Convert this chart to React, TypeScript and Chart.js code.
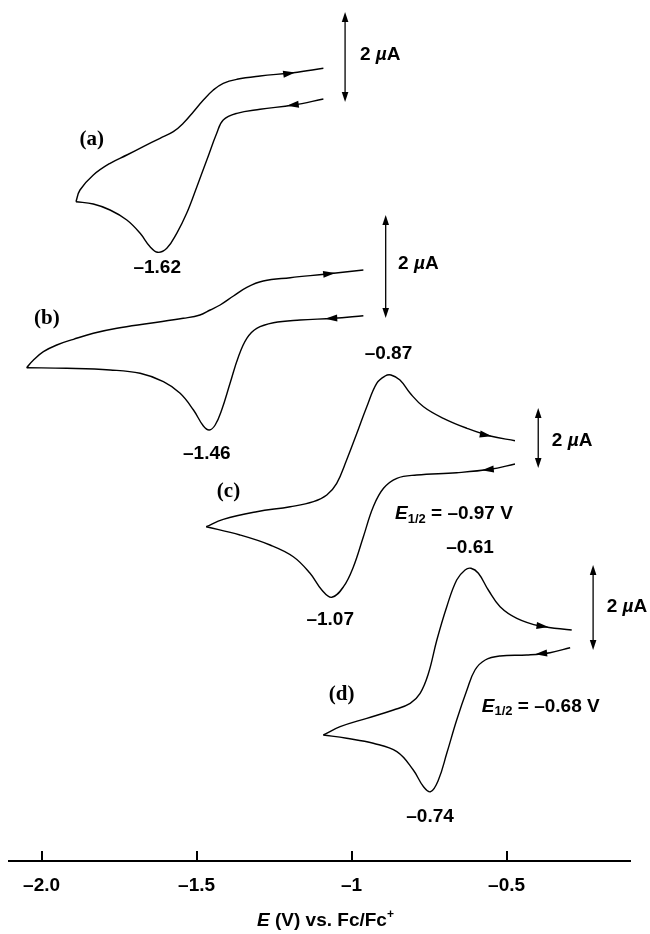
import React, { useEffect, useRef } from "react";
import { Chart, registerables } from "chart.js";

Chart.register(...registerables);

// ---- axis ----
const xTickValues = [-2.0, -1.5, -1, -0.5];
const xTickLabels = ["–2.0", "–1.5", "–1", "–0.5"];
const xTitleItalic = "E";
const xTitleRest = " (V) vs. Fc/Fc";
const xTitleSup = "+";

// ---- curves: [E (V), vertical position (arbitrary units, stacked)] ----
const aUpper: [number, number][] = [
  [-1.889, 659.3], [-1.876, 671], [-1.833, 686], [-1.779, 697.7], [-1.725, 706], [-1.672, 714.3],
  [-1.618, 722.7], [-1.575, 729.3], [-1.543, 737.7], [-1.51, 749.3], [-1.478, 761], [-1.446, 771],
  [-1.414, 777.7], [-1.37, 781.7], [-1.295, 785], [-1.188, 788.3], [-1.091, 792.7],
];
const aLower: [number, number][] = [
  [-1.889, 659.3], [-1.833, 657], [-1.779, 651], [-1.725, 641], [-1.682, 627.7], [-1.65, 614.3],
  [-1.625, 608.7], [-1.596, 612.7], [-1.564, 627.7], [-1.532, 647.7], [-1.499, 674.3], [-1.467, 701],
  [-1.435, 727.7], [-1.414, 741], [-1.37, 747.7], [-1.295, 751.7], [-1.188, 756], [-1.091, 762],
];
const bUpper: [number, number][] = [
  [-2.048, 493.3], [-2.026, 501], [-1.994, 509.3], [-1.951, 516], [-1.897, 521.7], [-1.833, 527.7],
  [-1.757, 532.7], [-1.65, 537.7], [-1.543, 542.7], [-1.489, 546], [-1.456, 551], [-1.424, 556],
  [-1.381, 565], [-1.338, 573.7], [-1.285, 580], [-1.198, 583.3], [-1.08, 587], [-0.962, 591],
];
const bLower: [number, number][] = [
  [-2.048, 493.3], [-1.919, 492.7], [-1.779, 491], [-1.682, 487.7], [-1.607, 479.3], [-1.553, 467.7],
  [-1.51, 451], [-1.478, 435], [-1.459, 431], [-1.44, 436], [-1.419, 451], [-1.392, 477.7],
  [-1.365, 504.3], [-1.338, 522.7], [-1.306, 532.7], [-1.252, 538.3], [-1.166, 541], [-1.059, 542.7],
  [-0.962, 545.3],
];
const cUpper: [number, number][] = [
  [-1.469, 334.3], [-1.414, 341.7], [-1.306, 349.3], [-1.198, 354.3], [-1.123, 359.3], [-1.08, 366],
  [-1.048, 377.7], [-1.016, 401], [-0.983, 427.7], [-0.951, 454.3], [-0.919, 477.7], [-0.892, 485],
  [-0.873, 486], [-0.844, 481], [-0.811, 467.7], [-0.768, 454.3], [-0.704, 442.7], [-0.628, 432.7],
  [-0.553, 425], [-0.473, 420.3],
];
const cLower: [number, number][] = [
  [-1.469, 334.3], [-1.36, 326], [-1.263, 316], [-1.188, 304.3], [-1.134, 287.7], [-1.096, 271],
  [-1.064, 263.7], [-1.026, 274.3], [-0.994, 294.3], [-0.962, 324.3], [-0.93, 354.3], [-0.897, 372.7],
  [-0.854, 382.7], [-0.79, 386], [-0.661, 388.3], [-0.553, 391.7], [-0.473, 397],
];
const dUpper: [number, number][] = [
  [-1.091, 126], [-1.037, 134.3], [-0.951, 142.7], [-0.865, 151], [-0.811, 157.7], [-0.779, 167.7],
  [-0.752, 187.7], [-0.725, 221], [-0.693, 254.3], [-0.661, 281], [-0.634, 291], [-0.615, 292.7],
  [-0.591, 287.7], [-0.559, 271], [-0.521, 254.3], [-0.467, 242.7], [-0.392, 235], [-0.29, 231],
];
const dLower: [number, number][] = [
  [-1.091, 126], [-1.016, 122.7], [-0.93, 117.7], [-0.854, 109.3], [-0.801, 91], [-0.768, 74.3],
  [-0.745, 69.3], [-0.72, 81], [-0.693, 107.7], [-0.661, 141], [-0.628, 171], [-0.602, 191],
  [-0.569, 201], [-0.521, 205], [-0.435, 206], [-0.36, 208.3], [-0.295, 213.3],
];
const curveBranches = [aUpper, aLower, bUpper, bLower, cUpper, cLower, dUpper, dLower];

// scan-direction arrowheads: [branch index, E of tip, direction (+1 right, -1 left)]
const arrowMarks: [number, number, number][] = [
  [0, -1.182, 1], [1, -1.209, -1],
  [2, -1.053, 1], [3, -1.085, -1],
  [4, -0.548, 1], [5, -0.58, -1],
  [6, -0.365, 1], [7, -0.408, -1],
];

// 2 µA scale bars: [E, bottom, top]
const scaleBars: [number, number, number][] = [
  [-1.021, 759, 849], [-0.89, 543, 646], [-0.398, 393, 453], [-0.221, 211, 296],
];
const scaleBarLabelPos: [number, number][] = [
  [-0.973, 806], [-0.85, 597.7], [-0.354, 420], [-0.177, 254.3],
];

// peak potential labels: [text, E, y]
const peakLabels: [string, number, number][] = [
  ["–1.62", -1.627, 593], ["–1.46", -1.467, 407.7], ["–0.87", -0.881, 507],
  ["–1.07", -1.069, 241], ["–0.61", -0.618, 313], ["–0.74", -0.747, 44.3],
];
const curveLetters: [string, number, number][] = [
  ["(a)", -1.838, 721], ["(b)", -1.983, 542.7], ["(c)", -1.397, 369.3], ["(d)", -1.032, 166],
];
const halfWaveLabels: [string, number, number][] = [
  ["–0.97", -0.86, 347], ["–0.68", -0.58, 154.3],
];

const SANS = '"Liberation Sans", Arial, Helvetica, sans-serif';
const SERIF = '"Liberation Serif", "Times New Roman", Times, serif';

type Part = { t: string; font: string; dy?: number };

function drawParts(ctx: CanvasRenderingContext2D, parts: Part[], x: number, y: number, align: "left" | "center") {
  let total = 0;
  for (const p of parts) {
    ctx.font = p.font;
    total += ctx.measureText(p.t).width;
  }
  let cx = align === "center" ? x - total / 2 : x;
  ctx.textAlign = "left";
  ctx.textBaseline = "middle";
  for (const p of parts) {
    ctx.font = p.font;
    ctx.fillText(p.t, cx, y + (p.dy || 0));
    cx += ctx.measureText(p.t).width;
  }
}

function head(ctx: CanvasRenderingContext2D, x: number, y: number, ang: number, L: number, W: number) {
  const c = Math.cos(ang), s = Math.sin(ang);
  const bx = x - L * c, by = y - L * s;
  ctx.beginPath();
  ctx.moveTo(x, y);
  ctx.lineTo(bx - W * s, by + W * c);
  ctx.lineTo(bx + W * s, by - W * c);
  ctx.closePath();
  ctx.fill();
}

const annotations = {
  id: "cvAnnotations",
  afterDraw(chart: any) {
    const ctx: CanvasRenderingContext2D = chart.ctx;
    const xs = chart.scales.x, ys = chart.scales.y;
    const px = (v: number) => xs.getPixelForValue(v);
    const py = (v: number) => ys.getPixelForValue(v);
    const area = chart.chartArea;
    ctx.save();
    ctx.fillStyle = "#000";
    ctx.strokeStyle = "#000";

    // inward tick marks
    ctx.lineWidth = 2;
    for (const v of xTickValues) {
      const x = Math.round(px(v));
      ctx.beginPath();
      ctx.moveTo(x, area.bottom);
      ctx.lineTo(x, area.bottom - 10);
      ctx.stroke();
    }

    // scan arrows
    for (const [bi, e, dir] of arrowMarks) {
      const pts = curveBranches[bi];
      let k = 0;
      while (k < pts.length - 2 && pts[k + 1][0] < e) k++;
      const [e0, h0] = pts[k];
      const [e1, h1] = pts[k + 1];
      const t = (e - e0) / (e1 - e0);
      const h = h0 + t * (h1 - h0);
      const ang = Math.atan2((py(h1) - py(h0)) * dir, (px(e1) - px(e0)) * dir);
      head(ctx, px(e), py(h), ang, 12, 3.5);
    }

    // scale bars
    ctx.lineWidth = 1.3;
    for (const [e, lo, hi] of scaleBars) {
      const x = px(e), y1 = py(hi), y2 = py(lo);
      ctx.beginPath();
      ctx.moveTo(x, y1 + 4);
      ctx.lineTo(x, y2 - 4);
      ctx.stroke();
      head(ctx, x, y1, -Math.PI / 2, 10, 3.3);
      head(ctx, x, y2, Math.PI / 2, 10, 3.3);
    }
    const B = `bold 19px ${SANS}`;
    const BI = `italic bold 19px ${SANS}`;
    for (const [e, h] of scaleBarLabelPos) {
      drawParts(ctx, [{ t: "2 ", font: B }, { t: "µ", font: BI }, { t: "A", font: B }], px(e), py(h), "left");
    }
    for (const [t, e, h] of peakLabels) {
      drawParts(ctx, [{ t, font: B }], px(e), py(h), "center");
    }
    for (const [t, e, h] of curveLetters) {
      drawParts(ctx, [{ t, font: `bold 21px ${SERIF}` }], px(e), py(h), "center");
    }
    for (const [t, e, h] of halfWaveLabels) {
      drawParts(
        ctx,
        [
          { t: "E", font: BI },
          { t: "1/2", font: `bold 13px ${SANS}`, dy: 5 },
          { t: ` = ${t} V`, font: B },
        ],
        px(e), py(h), "left"
      );
    }
    // axis title
    const cx = (area.left + area.right) / 2 + 6;
    drawParts(
      ctx,
      [
        { t: xTitleItalic, font: BI },
        { t: xTitleRest, font: B },
        { t: xTitleSup, font: `bold 12px ${SANS}`, dy: -6 },
      ],
      cx, 921, "center"
    );
    ctx.restore();
  },
};

export default function App() {
  const ref = useRef<HTMLCanvasElement>(null);
  useEffect(() => {
    const chart = new Chart(ref.current as HTMLCanvasElement, {
      type: "scatter",
      data: {
        datasets: curveBranches.map((b) => ({
          data: b.map(([x, y]) => ({ x, y })),
          showLine: true,
          borderColor: "#000",
          borderWidth: 1.4,
          pointRadius: 0,
          pointHoverRadius: 0,
          tension: 0.4,
          fill: false,
        })),
      },
      options: {
        responsive: false,
        animation: false,
        events: [],
        layout: { padding: { left: 9, right: 20, top: 0, bottom: 0 } },
        plugins: { legend: { display: false }, tooltip: { enabled: false } },
        scales: {
          x: {
            type: "linear",
            position: "bottom",
            min: -2.105,
            max: -0.102,
            afterBuildTicks: (s: any) => {
              s.ticks = xTickValues.map((v) => ({ value: v }));
            },
            afterFit: (s: any) => {
              s.height = 73;
            },
            ticks: {
              autoSkip: false,
              maxRotation: 0,
              padding: 13,
              color: "#000",
              font: { family: SANS, size: 19, weight: "bold" },
              callback: (v: any) => {
                const i = xTickValues.findIndex((t) => Math.abs(t - Number(v)) < 1e-6);
                return i >= 0 ? xTickLabels[i] : "";
              },
            },
            grid: { display: true, drawOnChartArea: false, drawTicks: false },
            border: { display: true, color: "#000", width: 2 },
          },
          y: { type: "linear", min: 0, max: 861, display: false },
        },
      },
      plugins: [annotations],
    });
    return () => chart.destroy();
  }, []);
  return (
    <div style={{ position: "fixed", left: 0, top: 0, width: 650, height: 934, background: "#fff" }}>
      <canvas ref={ref} width={650} height={934} style={{ display: "block" }} />
    </div>
  );
}
